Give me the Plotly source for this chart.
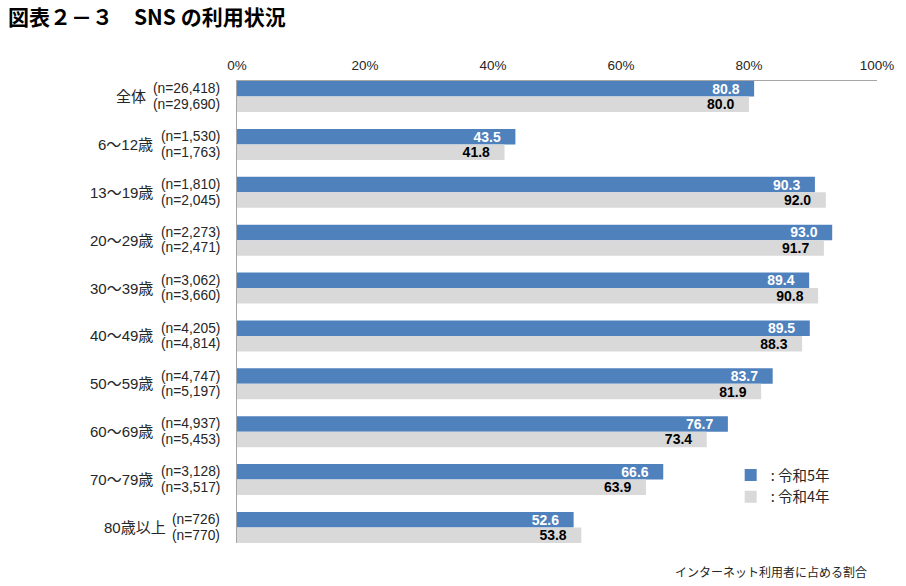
import plotly.graph_objects as go

categories = ["全体", "6～12歳", "13～19歳", "20～29歳", "30～39歳",
              "40～49歳", "50～59歳", "60～69歳", "70～79歳", "80歳以上"]
r5_values = [80.8, 43.5, 90.3, 93.0, 89.4, 89.5, 83.7, 76.7, 66.6, 52.6]
r4_values = [80.0, 41.8, 92.0, 91.7, 90.8, 88.3, 81.9, 73.4, 63.9, 53.8]
r5_n = ["26,418", "1,530", "1,810", "2,273", "3,062", "4,205", "4,747", "4,937", "3,128", "726"]
r4_n = ["29,690", "1,763", "2,045", "2,471", "3,660", "4,814", "5,197", "5,453", "3,517", "770"]
series_names = ["令和5年", "令和4年"]
tick_vals = [0, 20, 40, 60, 80, 100]
tick_labels = ["0%", "20%", "40%", "60%", "80%", "100%"]
title_text = "図表２－３　SNS の利用状況"
note_text = "インターネット利用者に占める割合"

BLUE = "#4F81BD"
GRAY = "#D9D9D9"
TXT = "#262626"
FONT = "Arial, 'Liberation Sans', 'Noto Sans CJK JP', sans-serif"
JFONT = "'Noto Sans CJK JP', sans-serif"

W, H = 906, 586
ML, MR, MT, MB = 237, 26, 81, 43
PW, PH = W - ML - MR, H - MT - MB
bargap = 0.351
half = (1 - bargap) / 2
pad_text = "\u00a0\u00a0\u00a0"

fig = go.Figure()
fig.add_trace(go.Bar(
    y=categories, x=r5_values, orientation="h", name=": " + series_names[0],
    marker=dict(color=BLUE, line=dict(width=0)),
    text=[f"{v:.1f}" + pad_text for v in r5_values],
    textposition="inside", insidetextanchor="end", constraintext="none",
    textangle=0,
    insidetextfont=dict(color="white", size=14, family=FONT, weight="bold"),
    hoverinfo="skip",
))
fig.add_trace(go.Bar(
    y=categories, x=r4_values, orientation="h", name=": " + series_names[1],
    marker=dict(color=GRAY, line=dict(width=0)),
    text=[f"{v:.1f}" + pad_text for v in r4_values],
    textposition="inside", insidetextanchor="end", constraintext="none",
    textangle=0,
    insidetextfont=dict(color="black", size=14, family=FONT, weight="bold"),
    hoverinfo="skip",
))

annotations = []
char_w = 6.7
for cat, n5, n4 in zip(categories, r5_n, r4_n):
    l5 = f"(n={n5})"
    l4 = f"(n={n4})"
    for lab, ys in ((l5, 7.75), (l4, -7.75)):
        annotations.append(dict(
            x=0, xref="paper", y=cat, yref="y", text=lab, showarrow=False,
            xanchor="right", yanchor="middle", xshift=-15, yshift=ys,
            font=dict(size=13.8, color=TXT, family=FONT),
        ))
    wmax = max(len(l5), len(l4)) * char_w
    annotations.append(dict(
        x=0, xref="paper", y=cat, yref="y", text=cat, showarrow=False,
        xanchor="right", yanchor="middle", xshift=-(15 + wmax + 7),
        font=dict(size=15, color=TXT, family=FONT),
    ))

annotations.append(dict(
    x=(872 - ML) / PW, xref="paper", y=(H - MB - 571) / PH, yref="paper",
    text=note_text, showarrow=False, xanchor="right", yanchor="middle",
    font=dict(size=12, color=TXT, family=JFONT),
))

fig.update_layout(
    width=W, height=H,
    margin=dict(l=ML, r=MR, t=MT, b=MB, pad=0),
    paper_bgcolor="white", plot_bgcolor="white",
    barmode="group", bargap=bargap, bargroupgap=0,
    title=dict(text="<b>" + title_text + "</b>", x=8 / W, xref="container",
               xanchor="left", y=1 - 18 / H, yref="container", yanchor="middle",
               font=dict(size=21, color="black", family=JFONT)),
    xaxis=dict(range=[0, 100], side="top", tickvals=tick_vals, ticktext=tick_labels,
               showgrid=False, zeroline=False, showline=True, linecolor="#A6A6A6",
               linewidth=1, ticks="", ticklabelstandoff=5,
               tickfont=dict(size=13.5, color=TXT, family=FONT),
               fixedrange=True),
    yaxis=dict(type="category", categoryorder="array", categoryarray=categories,
               range=[len(categories) - 1 + half, -half],
               showgrid=False, zeroline=False, showline=True, linecolor="#A6A6A6",
               linewidth=1, ticks="", showticklabels=False, fixedrange=True),
    showlegend=True,
    legend=dict(x=(733 - ML) / PW, xanchor="left",
                y=(H - MB - 459) / PH, yanchor="top",
                xref="paper", yref="paper", traceorder="normal",
                itemwidth=30, bgcolor="rgba(0,0,0,0)", borderwidth=0,
                font=dict(size=14.5, color=TXT, family=JFONT),
                tracegroupgap=0),
    annotations=annotations,
)

fig.write_html(
    "out.html",
    config={"displayModeBar": False, "staticPlot": True},
    post_script="document.body.style.margin='0';document.body.style.padding='0';"
                "document.documentElement.style.margin='0';",
)
